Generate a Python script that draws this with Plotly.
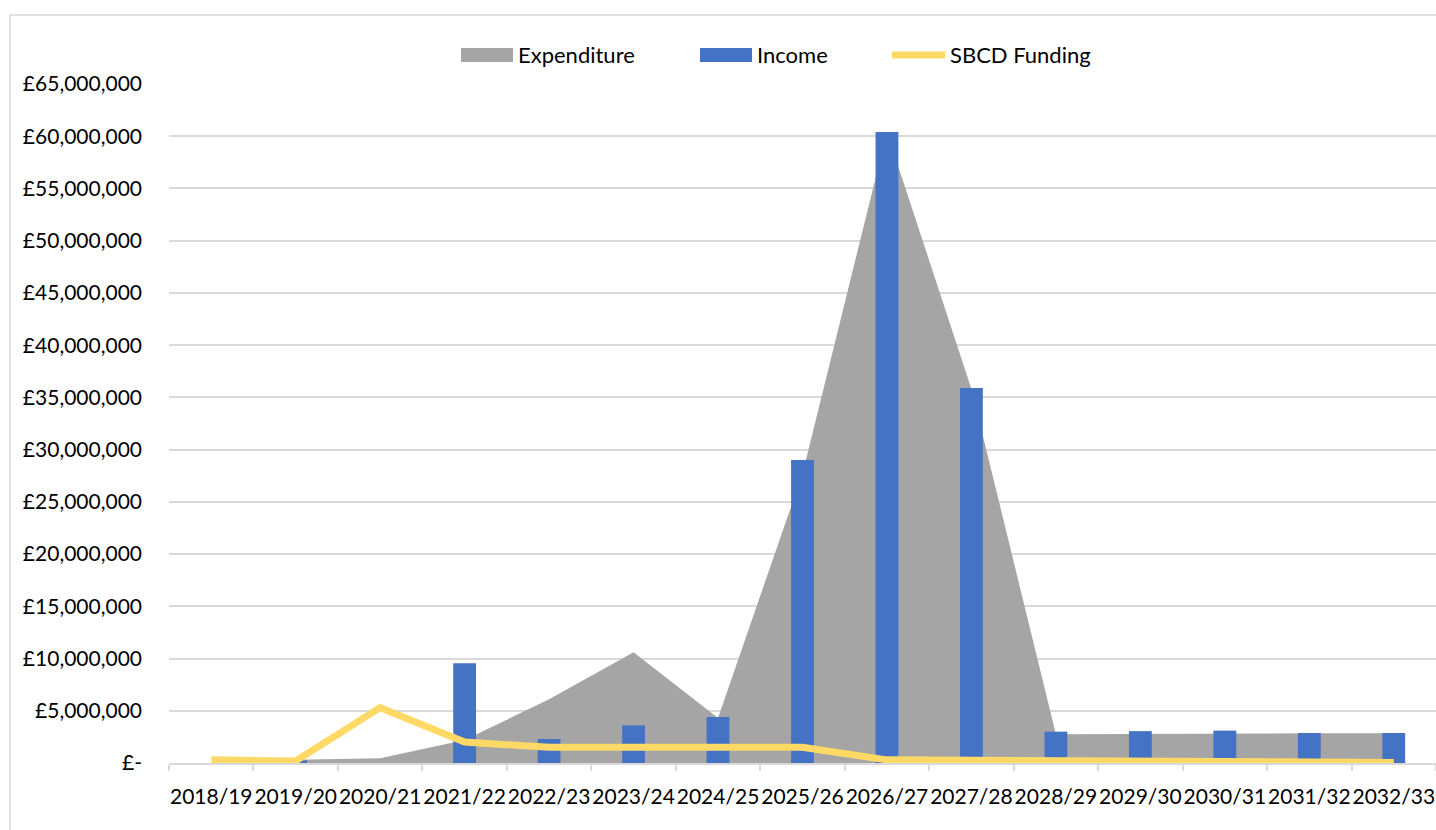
import plotly.graph_objects as go

# Financial years on the category axis
years = ["2018/19", "2019/20", "2020/21", "2021/22", "2022/23", "2023/24", "2024/25",
         "2025/26", "2026/27", "2027/28", "2028/29", "2029/30", "2030/31", "2031/32", "2032/33"]

# Annual figures in pounds
expenditure = [0, 300000, 450000, 2200000, 6100000, 10600000, 4300000, 27700000,
               60400000, 35800000, 2750000, 2800000, 2850000, 2850000, 2850000]
income = [0, 250000, 0, 9550000, 2300000, 3600000, 4400000, 29000000,
          60400000, 35900000, 3000000, 3050000, 3100000, 2870000, 2870000]
sbcd_funding = [300000, 200000, 5300000, 2000000, 1500000, 1500000, 1500000, 1500000,
                300000, 250000, 250000, 250000, 250000, 50000, 50000]

# Value axis ticks and their labels
y_ticks = [0, 5000000, 10000000, 15000000, 20000000, 25000000, 30000000,
           35000000, 40000000, 45000000, 50000000, 55000000, 60000000, 65000000]
y_tick_labels = ["£-", "£5,000,000", "£10,000,000", "£15,000,000", "£20,000,000",
                 "£25,000,000", "£30,000,000", "£35,000,000", "£40,000,000",
                 "£45,000,000", "£50,000,000", "£55,000,000", "£60,000,000",
                 "£65,000,000"]

series_names = ["Expenditure", "Income", "SBCD Funding"]

GREY = "#A5A5A5"
BLUE = "#4472C4"
GOLD = "#FFD966"
GRID = "#D9D9D9"
FONT = "Lato"

W, H = 1436, 830
M_L, M_R, M_T, M_B = 169, 0, 84, 67
PLOT_W = W - M_L - M_R
PLOT_H = H - M_T - M_B


def px(x):
    """Page pixel column -> paper x."""
    return (x - M_L) / PLOT_W


def py(y):
    """Page pixel row -> paper y."""
    return (H - M_B - y) / PLOT_H


fig = go.Figure()

# Expenditure as a filled area on the base axis (drawn underneath)
fig.add_trace(go.Scatter(
    x=years, y=expenditure, name=series_names[0], mode="lines",
    fill="tozeroy", fillcolor=GREY, line=dict(color=GREY, width=0),
    xaxis="x", yaxis="y", showlegend=False,
))

# Income columns and SBCD funding line on an overlaid axis so they sit on top of the area
fig.add_trace(go.Bar(
    x=years, y=income, name=series_names[1], marker=dict(color=BLUE, line=dict(width=0)),
    width=0.27, xaxis="x", yaxis="y2", showlegend=False,
))
fig.add_trace(go.Scatter(
    x=years, y=sbcd_funding, name=series_names[2], mode="lines",
    line=dict(color=GOLD, width=7), xaxis="x", yaxis="y2", showlegend=False,
))

y_range = [0, 65000000]

# Legend row across the top: swatch + label for each series
legend_y = 55
legend_items = [
    (series_names[0], "rect", GREY, 461, 513),
    (series_names[1], "rect", BLUE, 700, 752),
    (series_names[2], "line", GOLD, 892, 945),
]
shapes = [
    # Light chart-area border
    dict(type="rect", xref="paper", yref="paper",
         x0=px(10), x1=px(W + 20), y0=py(H + 40), y1=py(15),
         line=dict(color=GRID, width=1.5), fillcolor="rgba(0,0,0,0)", layer="below"),
]
annotations = []
for label, kind, color, x0, x1 in legend_items:
    if kind == "rect":
        shapes.append(dict(type="rect", xref="paper", yref="paper",
                           x0=px(x0), x1=px(x1), y0=py(legend_y + 7), y1=py(legend_y - 7),
                           fillcolor=color, line=dict(width=0)))
    else:
        shapes.append(dict(type="line", xref="paper", yref="paper",
                           x0=px(x0), x1=px(x1), y0=py(legend_y), y1=py(legend_y),
                           line=dict(color=color, width=7)))
    annotations.append(dict(text=label, xref="paper", yref="paper",
                            x=px(x1 + 3), y=py(legend_y), xanchor="left", yanchor="middle",
                            showarrow=False,
                            font=dict(family=FONT, size=22, color="#000000")))

fig.update_layout(
    width=W, height=H,
    margin=dict(l=M_L, r=M_R, t=M_T, b=M_B),
    paper_bgcolor="white", plot_bgcolor="white",
    font=dict(family=FONT, size=21, color="#000000"),
    showlegend=False,
    xaxis=dict(
        type="category", range=[-0.5, 14.5], tickson="boundaries",
        ticks="outside", ticklen=6, tickcolor=GRID, tickwidth=1.5,
        showline=True, linecolor=GRID, linewidth=1.5,
        showgrid=False, zeroline=False, tickangle=0,
        ticklabelstandoff=14,
        tickfont=dict(family=FONT, size=21, color="#000000"),
    ),
    yaxis=dict(
        range=y_range, tickmode="array", tickvals=y_ticks, ticktext=y_tick_labels,
        showgrid=True, gridcolor=GRID, gridwidth=1.5,
        showline=False, zeroline=False, ticks="",
        ticklabelstandoff=26,
        tickfont=dict(family=FONT, size=21, color="#000000"),
    ),
    yaxis2=dict(
        range=y_range, overlaying="y", visible=False, showgrid=False, zeroline=False,
    ),
    shapes=shapes,
    annotations=annotations,
)

fig.write_html("out.html")
